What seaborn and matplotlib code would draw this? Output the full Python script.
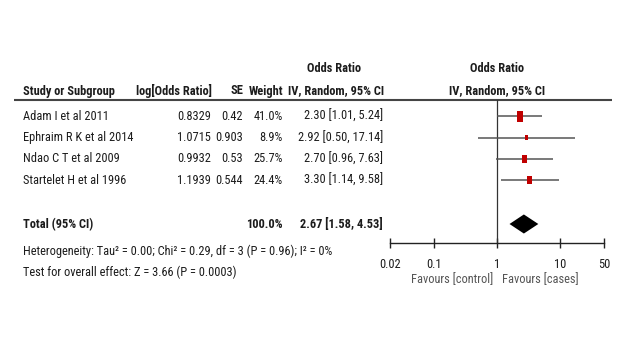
import matplotlib
matplotlib.use("Agg")
import matplotlib.pyplot as plt
from matplotlib import font_manager
from matplotlib.path import Path
import numpy as np
import pandas as pd
import seaborn as sns

# ---- data ----
studies = ["Adam I et al 2011", "Ephraim R K et al 2014", "Ndao C T et al 2009", "Startelet H et al 1996"]
log_or = ["0.8329", "1.0715", "0.9932", "1.1939"]
se = ["0.42", "0.903", "0.53", "0.544"]
weights = [41.0, 8.9, 25.7, 24.4]
odds_ratio = [2.30, 2.92, 2.70, 3.30]
ci_low = [1.01, 0.50, 0.96, 1.14]
ci_high = [5.24, 17.14, 7.63, 9.58]
total_or = 2.67
total_low = 1.58
total_high = 4.53
total_weight = "100.0%"
heterogeneity = "Heterogeneity: Tau² = 0.00; Chi² = 0.29, df = 3 (P = 0.96); I² = 0%"
overall = "Test for overall effect: Z = 3.66 (P = 0.0003)"
tick_values = [0.02, 0.1, 1, 10, 50]
tick_labels = ["0.02", "0.1", "1", "10", "50"]
favours_left = "Favours [control]"
favours_right = "Favours [cases]"

# ---- style ----
sns.set_theme(style="white")
names = {f.name for f in font_manager.fontManager.ttflist}
fam = "Liberation Sans"
for cand in ["Liberation Sans Narrow", "Arial Narrow", "Roboto Condensed", "Open Sans Condensed",
             "Noto Sans Condensed", "DejaVu Sans Condensed", "Roboto", "Liberation Sans"]:
    if cand in names:
        fam = cand
        break
plt.rcParams["font.family"] = [fam, "DejaVu Sans"]

W, H = 628, 339
fig = plt.figure(figsize=(W / 100, H / 100), dpi=100)
fig.patch.set_facecolor("white")

# overlay axes in pixel coordinates for the table text
axt = fig.add_axes([0, 0, 1, 1])
axt.set_xlim(0, W)
axt.set_ylim(H, 0)
axt.axis("off")

# choose font size so the long footnote spans about the same width as in the reference
renderer = fig.canvas.get_renderer()
probe = axt.text(0, 0, heterogeneity, fontsize=10)
pw = probe.get_window_extent(renderer=renderer).width
probe.remove()
fs = min(10.0, 10.0 * 280.0 / pw * 1.1)

tc = "#1c1c1c"
row_y0, row_dy = 116.5, 21.2

def row_y(i):
    return row_y0 + row_dy * i

kw = dict(fontsize=fs, color=tc, va="center")
# headers
axt.text(334, 68, "Odds Ratio", ha="center", fontweight="bold", **kw)
axt.text(497, 68, "Odds Ratio", ha="center", fontweight="bold", **kw)
hy = 91
axt.text(23, hy, "Study or Subgroup", ha="left", fontweight="bold", **kw)
axt.text(212, hy, "log[Odds Ratio]", ha="right", fontweight="bold", **kw)
axt.text(243, hy, "SE", ha="right", fontweight="bold", **kw)
axt.text(283, hy, "Weight", ha="right", fontweight="bold", **kw)
axt.text(336, hy, "IV, Random, 95% CI", ha="center", fontweight="bold", **kw)
axt.text(497, hy, "IV, Random, 95% CI", ha="center", fontweight="bold", **kw)
axt.plot([14, 612], [100, 100], color="#444444", lw=1.5, solid_capstyle="butt")

for i, name in enumerate(studies):
    y = row_y(i)
    axt.text(23, y, name, ha="left", **kw)
    axt.text(211, y, log_or[i], ha="right", **kw)
    axt.text(243, y, se[i], ha="right", **kw)
    axt.text(283, y, f"{weights[i]:.1f}%", ha="right", **kw)
    axt.text(383, y, f"{odds_ratio[i]:.2f} [{ci_low[i]:.2f}, {ci_high[i]:.2f}]", ha="right", **kw)

ty = 225
axt.text(23, ty, "Total (95% CI)", ha="left", fontweight="bold", **kw)
axt.text(283, ty, total_weight, ha="right", fontweight="bold", **kw)
axt.text(383, ty, f"{total_or:.2f} [{total_low:.2f}, {total_high:.2f}]", ha="right", fontweight="bold", **kw)
axt.text(23, 251, heterogeneity, ha="left", **kw)
axt.text(23, 272, overall, ha="left", **kw)
axt.text(493, 280, favours_left, ha="right", va="center", fontsize=fs, color="#555555")
axt.text(502, 280, favours_right, ha="left", va="center", fontsize=fs, color="#555555")

# ---- forest axes ----
px_l, px_r, px_top, px_bot = 390, 604, 100, 243
axf = fig.add_axes([px_l / W, (H - px_bot) / H, (px_r - px_l) / W, (px_bot - px_top) / H])
axf.set_facecolor("none")
axf.set_xscale("log")
axf.set_xlim(tick_values[0], tick_values[-1])
axf.set_ylim((px_bot - row_y0) / row_dy, (px_top - row_y0) / row_dy)

df = pd.DataFrame({"study": studies, "or": odds_ratio, "lo": ci_low, "hi": ci_high,
                   "weight": weights, "row": np.arange(len(studies))})

axf.axvline(1, color="#333333", lw=0.9, zorder=1)
axf.hlines(df["row"], df["lo"], df["hi"], color="#555555", lw=1.1, zorder=2)

rect = Path([(-0.3, -0.5), (0.3, -0.5), (0.3, 0.5), (-0.3, 0.5), (-0.3, -0.5)],
            [Path.MOVETO, Path.LINETO, Path.LINETO, Path.LINETO, Path.CLOSEPOLY])
sns.scatterplot(data=df, x="or", y="row", size="weight", sizes=(0, 62), size_norm=(0, max(weights)),
                marker=rect, color="#c00000", edgecolor="none", linewidth=0, legend=False,
                ax=axf, zorder=3)

trow = (ty - 1 - row_y0) / row_dy
dh = 0.45
axf.fill([total_low, total_or, total_high, total_or], [trow, trow - dh, trow, trow + dh],
         color="black", lw=0, zorder=3)

for s in ["top", "right", "left"]:
    axf.spines[s].set_visible(False)
axf.spines["bottom"].set_color("#222222")
axf.spines["bottom"].set_linewidth(1.0)
axf.set_xticks(tick_values)
axf.set_xticklabels(tick_labels)
axf.xaxis.set_minor_locator(matplotlib.ticker.NullLocator())
axf.tick_params(axis="x", direction="inout", length=7, width=1.0, color="#222222",
                labelsize=fs, labelcolor=tc, pad=7, bottom=True)
axf.set_yticks([])
axf.set_xlabel("")
axf.set_ylabel("")
axf.grid(False)

fig.savefig("out.png", dpi=100, facecolor="white")
